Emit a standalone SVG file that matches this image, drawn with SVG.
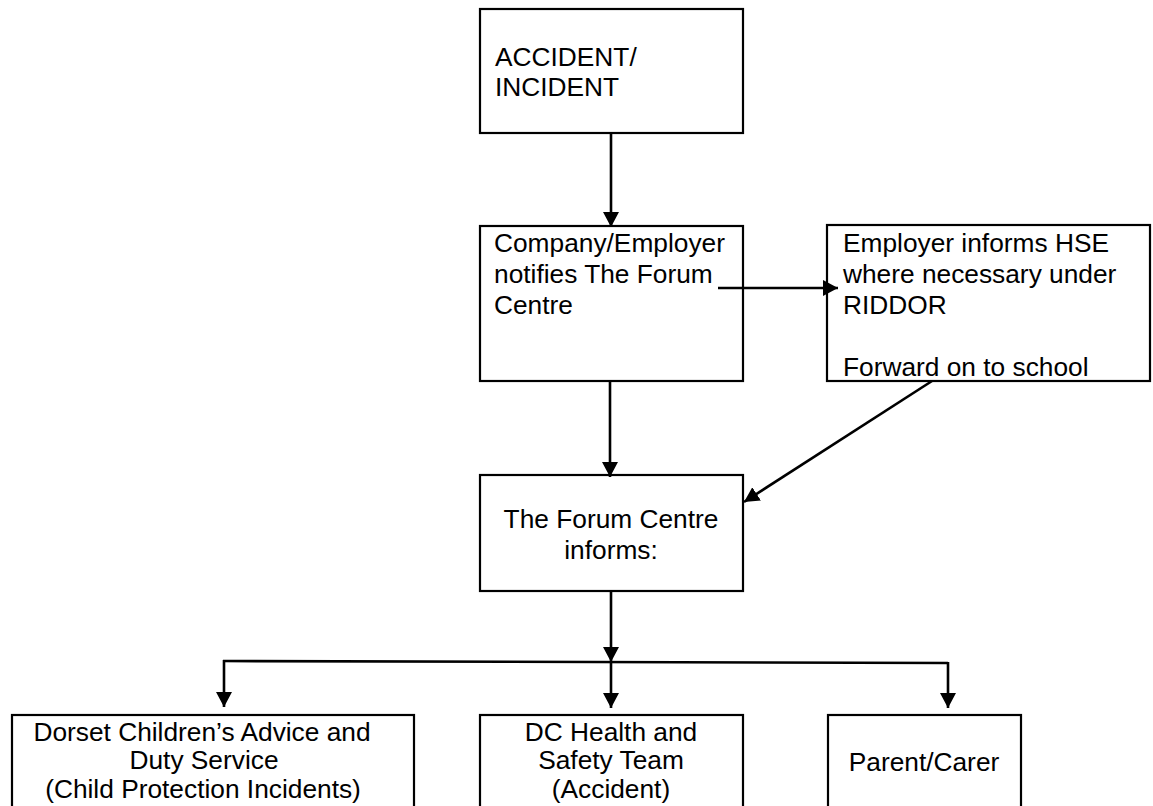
<svg xmlns="http://www.w3.org/2000/svg" width="1153" height="806" viewBox="0 0 1153 806">
<style>
.box{fill:#fff;stroke:#000;stroke-width:2.2}
.t{font-family:"Liberation Sans",Arial,sans-serif;font-size:26.3px;fill:#000}
.c{text-anchor:middle}
.ln{stroke:#000;stroke-width:2.6;fill:none}
</style>
<defs>
<marker id="ah" markerUnits="userSpaceOnUse" markerWidth="17" markerHeight="17" refX="15" refY="8" orient="auto">
<path d="M0,0 L15,8 L0,16 z" fill="#000"/>
</marker>
</defs>
<g id="n1">
<rect class="box" x="480" y="9" width="263" height="124"/>
<text class="t" x="495" y="66">ACCIDENT/</text>
<text class="t" x="495" y="96">INCIDENT</text>
</g>
<g id="n2">
<rect class="box" x="480" y="226" width="263" height="155"/>
<text class="t" x="494" y="252">Company/Employer</text>
<text class="t" x="494" y="283">notifies The Forum</text>
<text class="t" x="494" y="314">Centre</text>
</g>
<g id="n3">
<rect class="box" x="827" y="225" width="323" height="156"/>
<text class="t" x="843" y="252">Employer informs HSE</text>
<text class="t" x="843" y="283">where necessary under</text>
<text class="t" x="843" y="314">RIDDOR</text>
<text class="t" x="843" y="376">Forward on to school</text>
</g>
<g id="n4">
<rect class="box" x="480" y="475" width="263" height="116"/>
<text class="t c" x="611" y="528">The Forum Centre</text>
<text class="t c" x="611" y="559">informs:</text>
</g>
<g id="n5">
<rect class="box" x="12" y="715" width="402" height="120"/>
<text class="t c" x="202" y="741">Dorset Children’s Advice and</text>
<text class="t c" x="204" y="769">Duty Service</text>
<text class="t c" x="203" y="798">(Child Protection Incidents)</text>
</g>
<g id="n6">
<rect class="box" x="480" y="715" width="263" height="120"/>
<text class="t c" x="611" y="741">DC Health and</text>
<text class="t c" x="611" y="769">Safety Team</text>
<text class="t c" x="611" y="798">(Accident)</text>
</g>
<g id="n7">
<rect class="box" x="828" y="715" width="193" height="120"/>
<text class="t c" x="924" y="771">Parent/Carer</text>
</g>
<g id="connectors">
<line class="ln" x1="611" y1="133" x2="611" y2="227" marker-end="url(#ah)"/>
<line class="ln" x1="718" y1="288" x2="838" y2="288" marker-end="url(#ah)"/>
<line class="ln" x1="610" y1="381" x2="610" y2="477" marker-end="url(#ah)"/>
<line class="ln" x1="932" y1="381" x2="744" y2="502" marker-end="url(#ah)"/>
<line class="ln" x1="611" y1="591" x2="611" y2="662" marker-end="url(#ah)"/>
<line class="ln" x1="223" y1="661" x2="948" y2="663"/>
<line class="ln" x1="224" y1="660" x2="224" y2="707" marker-end="url(#ah)"/>
<line class="ln" x1="611" y1="662" x2="611" y2="708" marker-end="url(#ah)"/>
<line class="ln" x1="948" y1="662" x2="948" y2="708" marker-end="url(#ah)"/>
</g>
</svg>
